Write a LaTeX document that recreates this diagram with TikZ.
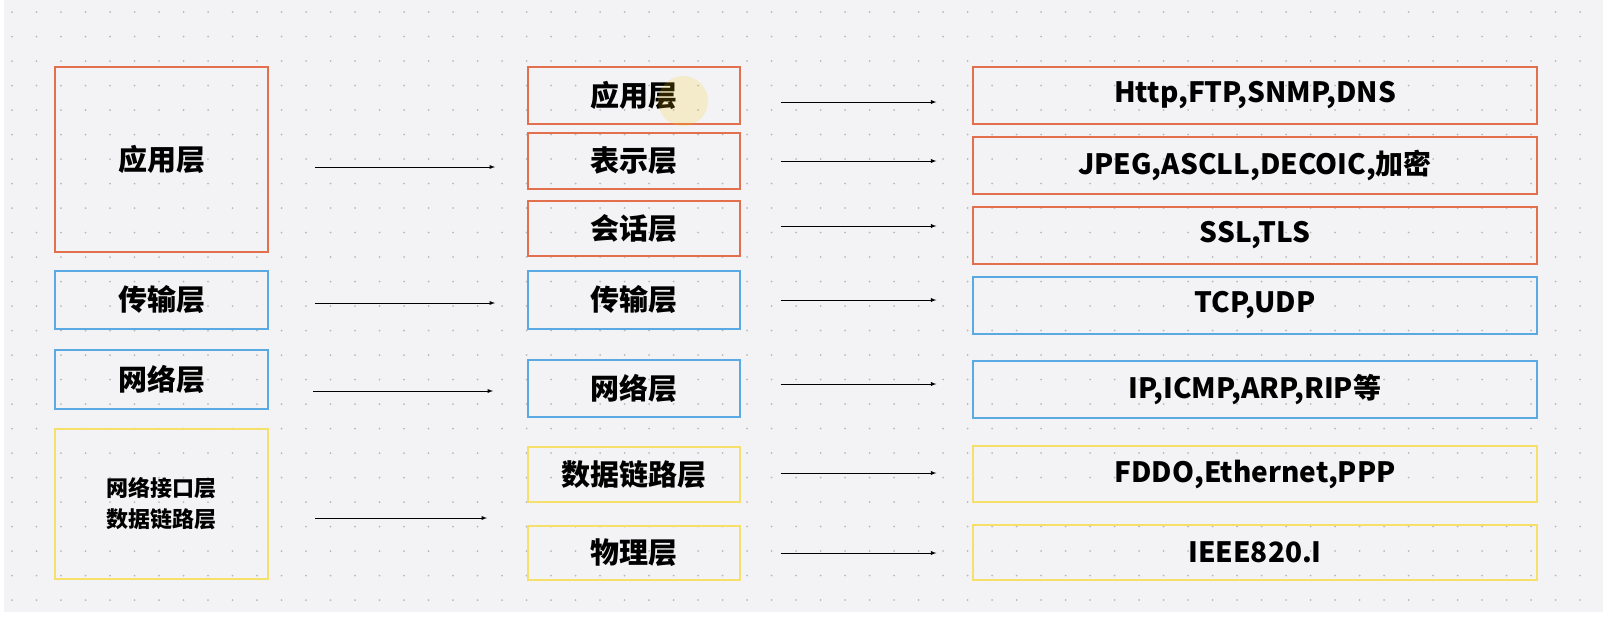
\documentclass[tikz,border=0pt]{standalone}
\usepackage{fontspec}
\setmainfont{Noto Sans CJK SC}
\begin{document}
\begin{tikzpicture}[x=1pt,y=-1pt,
  box/.style={draw=#1,line width=1.3pt,inner sep=0},
  arr/.style={-latex,line width=0.9pt},
  mid/.style={font=\fontsize{29}{30}\selectfont\bfseries},
  rt/.style={font=\fontsize{28}{30}\selectfont\bfseries}]
\definecolor{orng}{HTML}{E2704F}
\definecolor{blu}{HTML}{5BA9E2}
\definecolor{yel}{HTML}{F4E06A}
\useasboundingbox (0,0) rectangle (1603,624);
\fill[white] (0,0) rectangle (1603,624);
\fill[fill={rgb,255:red,243;green,243;blue,245}] (4,0) rectangle (1603,612);
\foreach \i in {0,...,64}{\foreach \j in {0,...,24}{
  \fill[gray!55] (12+24.5*\i,12+24.5*\j) circle (1);}}
% left
\node[box=orng,minimum width=213,minimum height=185,mid] (l1) at (161.5,159.5) {应用层};
\node[box=blu,minimum width=213,minimum height=58,mid] (l2) at (161.5,300) {传输层};
\node[box=blu,minimum width=213,minimum height=59,mid] (l3) at (161.5,379.5) {网络层};
\node[box=yel,minimum width=213,minimum height=150,align=center,font=\fontsize{22}{31}\selectfont\bfseries] (l4) at (161.5,504) {网络接口层\\数据链路层};
% middle
\node[box=orng,minimum width=212,minimum height=57,mid] (m1) at (634,95.5) {应用层};
\node[box=orng,minimum width=212,minimum height=56,mid] (m2) at (634,161) {表示层};
\node[box=orng,minimum width=212,minimum height=55,mid] (m3) at (634,228.5) {会话层};
\node[box=blu,minimum width=212,minimum height=58,mid] (m4) at (634,300) {传输层};
\node[box=blu,minimum width=212,minimum height=57,mid] (m5) at (634,388.5) {网络层};
\node[box=yel,minimum width=212,minimum height=55,mid] (m6) at (634,474.5) {数据链路层};
\node[box=yel,minimum width=212,minimum height=54,mid] (m7) at (634,553) {物理层};
\fill[yellow!60!orange,opacity=0.18] (683,101) circle (25);
% right
\node[box=orng,minimum width=564,minimum height=57,rt] (r1) at (1255,95.5) {Http,FTP,SNMP,DNS};
\node[box=orng,minimum width=564,minimum height=57,rt] (r2) at (1255,165.5) {JPEG,ASCLL,DECOIC,加密};
\node[box=orng,minimum width=564,minimum height=57,rt] (r3) at (1255,235.5) {SSL,TLS};
\node[box=blu,minimum width=564,minimum height=57,rt] (r4) at (1255,305.5) {TCP,UDP};
\node[box=blu,minimum width=564,minimum height=57,rt] (r5) at (1255,389.5) {IP,ICMP,ARP,RIP等};
\node[box=yel,minimum width=564,minimum height=56,rt] (r6) at (1255,474) {FDDO,Ethernet,PPP};
\node[box=yel,minimum width=564,minimum height=55,rt] (r7) at (1255,552.5) {IEEE820.I};
% arrows left->mid
\coordinate (a1) at (315,167); \coordinate (b1) at (495,167);
\coordinate (a2) at (315,303); \coordinate (b2) at (495,303);
\coordinate (a3) at (313,391); \coordinate (b3) at (493,391);
\coordinate (a4) at (315,518); \coordinate (b4) at (487,518);
\foreach \k in {1,...,4}{\draw[arr] (a\k) -- (b\k);}
% arrows mid->right
\foreach \k/\y in {1/102,2/161,3/226,4/300,5/384,6/473,7/553}{
  \draw[arr] ([xshift=40]m\k.east |- 0,\y) -- ([xshift=-36]r\k.west |- 0,\y);}
\end{tikzpicture}
\end{document}
